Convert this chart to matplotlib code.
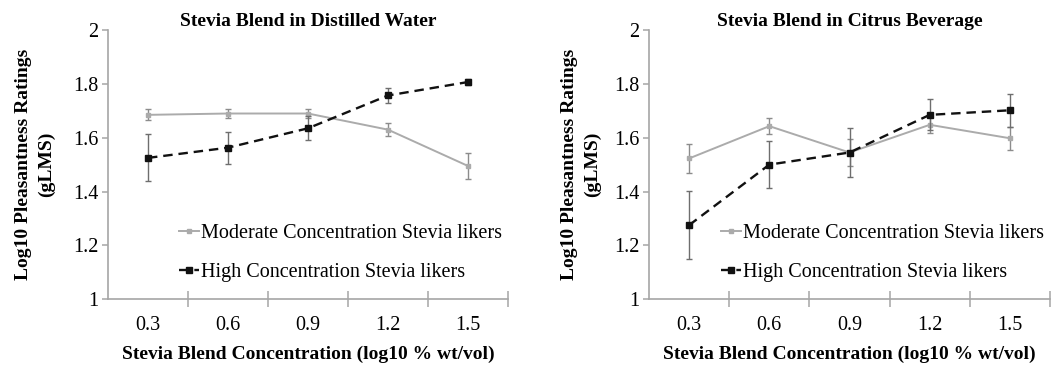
import numpy as np
import matplotlib
matplotlib.use('Agg')
import matplotlib.pyplot as plt
from matplotlib.lines import Line2D

## Data
categories = ['0.3', '0.6', '0.9', '1.2', '1.5']
yticks = [1, 1.2, 1.4, 1.6, 1.8, 2]
ytick_labels = ['1', '1.2', '1.4', '1.6', '1.8', '2']

titles = ['Stevia Blend in Distilled Water', 'Stevia Blend in Citrus Beverage']

water_moderate = [1.685, 1.690, 1.690, 1.630, 1.495]
water_moderate_err = [0.020, 0.017, 0.015, 0.025, 0.048]
water_high = [1.525, 1.563, 1.635, 1.757, 1.807]
water_high_err = [0.087, 0.060, 0.045, 0.027, 0.012]

citrus_moderate = [1.523, 1.643, 1.545, 1.648, 1.598]
citrus_moderate_err = [0.055, 0.030, 0.050, 0.030, 0.043]
citrus_high = [1.275, 1.500, 1.545, 1.685, 1.702]
citrus_high_err = [0.127, 0.087, 0.090, 0.058, 0.062]

label_moderate = 'Moderate Concentration Stevia likers'
label_high = 'High Concentration Stevia likers'

## Styling
plt.rcParams['font.family'] = ['Liberation Serif', 'DejaVu Serif']
spine_color = '#a6a6a6'
moderate_color = '#ababab'
high_color = '#111111'
high_dash = (0, (4, 2.5))
ylabel_pads = [13, 9]

fig = plt.figure(figsize=(10.6, 3.72), dpi=100)
ax_left = fig.add_axes([0.1019, 0.196, 0.3773, 0.723])
ax_right = fig.add_axes([0.6123, 0.196, 0.3783, 0.723])

panels = [
    (ax_left, water_moderate, water_moderate_err, water_high, water_high_err),
    (ax_right, citrus_moderate, citrus_moderate_err, citrus_high, citrus_high_err),
]

x = np.arange(len(categories))

for n, (ax, mod, mod_err, high, high_err) in enumerate(panels):
    ax.errorbar(x, mod, yerr=mod_err, color=moderate_color, linewidth=1.4,
                marker='s', markersize=2.5, ecolor='#8c8c8c', elinewidth=1.0,
                capsize=2.5, capthick=1.0, zorder=2)
    ax.errorbar(x, high, yerr=high_err, color=high_color, linewidth=1.7,
                linestyle=high_dash, marker='s', markersize=4.5,
                ecolor='#6e6e6e', elinewidth=1.0, capsize=2.5, capthick=1.0,
                zorder=3)

    ax.set_xlim(-0.5, len(categories) - 0.5)
    ax.set_ylim(1, 2)

    for side in ['top', 'right']:
        ax.spines[side].set_visible(False)
    for side in ['left', 'bottom']:
        ax.spines[side].set_color(spine_color)
        ax.spines[side].set_linewidth(1.2)

    ax.set_yticks(yticks, labels=ytick_labels, fontsize=14.5)
    ax.tick_params(axis='y', direction='out', length=4, width=1.1,
                   color=spine_color, pad=3)

    ax.set_xticks(x, labels=categories, fontsize=14.5)
    ax.tick_params(axis='x', which='major', length=0, pad=12)
    ax.set_xticks(np.arange(0.5, len(categories), 1), minor=True)
    ax.tick_params(axis='x', which='minor', direction='inout', length=12,
                   width=1.1, color=spine_color)

    ax.set_title(titles[n], fontsize=14, fontweight='bold', pad=3)
    ax.set_xlabel('Stevia Blend Concentration (log10 % wt/vol)',
                  fontsize=14, fontweight='bold', labelpad=8)
    ax.set_ylabel('Log10 Pleasantness Ratings\n(gLMS)', fontsize=14,
                  fontweight='bold', labelpad=ylabel_pads[n], linespacing=1.45)

    handles = [
        Line2D([], [], color=moderate_color, linewidth=1.4, marker='s',
               markersize=2.5),
        Line2D([], [], color=high_color, linewidth=1.7, linestyle=high_dash,
               marker='s', markersize=4.5),
    ]
    ax.legend(handles, [label_moderate, label_high], loc='lower right',
              bbox_to_anchor=(1.005, 0.035), frameon=False, fontsize=14.5,
              handlelength=1.0, handletextpad=0.1, labelspacing=0.95,
              borderaxespad=0)

fig.savefig('out.png', dpi=100)
